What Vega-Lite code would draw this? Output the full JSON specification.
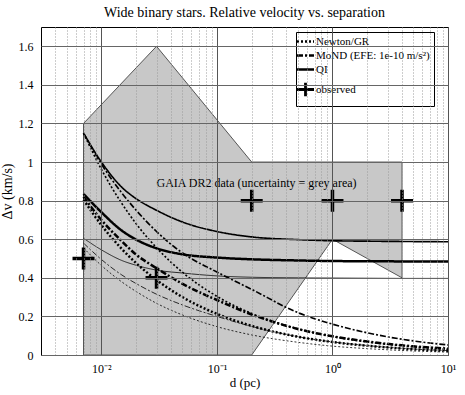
{
  "$schema": "https://vega.github.io/schema/vega-lite/v6.json",
  "width": 407,
  "height": 328,
  "autosize": {"type": "none"},
  "padding": {"left": 41, "top": 27, "right": 17, "bottom": 40},
  "background": "white",
  "config": {
    "view": {"stroke": "black", "strokeWidth": 1},
    "font": "Liberation Serif"
  },
  "title": {
    "text": "Wide binary stars. Relative velocity vs. separation",
    "font": "Liberation Serif",
    "fontSize": 14,
    "fontWeight": "normal",
    "baseline": "bottom",
    "offset": 5,
    "dy": 12,
    "color": "black"
  },
  "datasets": {
    "area": [
      {"d": 0.007, "v": 0, "v2": 1.2},
      {"d": 0.03, "v": 0, "v2": 1.6},
      {"d": 0.2, "v": 0, "v2": 1.0},
      {"d": 1, "v": 0.6, "v2": 1.0},
      {"d": 4, "v": 0.4, "v2": 1.0}
    ],
    "curves": [
      {"model": "QI", "band": "central", "d": 0.007, "v": 0.835},
      {"model": "QI", "band": "central", "d": 0.01, "v": 0.74},
      {"model": "QI", "band": "central", "d": 0.015, "v": 0.645},
      {"model": "QI", "band": "central", "d": 0.02, "v": 0.598},
      {"model": "QI", "band": "central", "d": 0.03, "v": 0.553},
      {"model": "QI", "band": "central", "d": 0.05, "v": 0.522},
      {"model": "QI", "band": "central", "d": 0.1, "v": 0.505},
      {"model": "QI", "band": "central", "d": 0.2, "v": 0.496},
      {"model": "QI", "band": "central", "d": 0.5, "v": 0.49},
      {"model": "QI", "band": "central", "d": 1, "v": 0.487},
      {"model": "QI", "band": "central", "d": 2, "v": 0.486},
      {"model": "QI", "band": "central", "d": 5, "v": 0.485},
      {"model": "QI", "band": "central", "d": 10, "v": 0.485},
      {"model": "QI", "band": "upper", "d": 0.007, "v": 1.15},
      {"model": "QI", "band": "upper", "d": 0.01, "v": 1.0},
      {"model": "QI", "band": "upper", "d": 0.015, "v": 0.87},
      {"model": "QI", "band": "upper", "d": 0.02, "v": 0.81},
      {"model": "QI", "band": "upper", "d": 0.03, "v": 0.75},
      {"model": "QI", "band": "upper", "d": 0.05, "v": 0.69},
      {"model": "QI", "band": "upper", "d": 0.1, "v": 0.64},
      {"model": "QI", "band": "upper", "d": 0.2, "v": 0.612},
      {"model": "QI", "band": "upper", "d": 0.5, "v": 0.598},
      {"model": "QI", "band": "upper", "d": 1, "v": 0.592},
      {"model": "QI", "band": "upper", "d": 2, "v": 0.59},
      {"model": "QI", "band": "upper", "d": 5, "v": 0.588},
      {"model": "QI", "band": "upper", "d": 10, "v": 0.587},
      {"model": "QI", "band": "lower", "d": 0.007, "v": 0.605},
      {"model": "QI", "band": "lower", "d": 0.01, "v": 0.545},
      {"model": "QI", "band": "lower", "d": 0.015, "v": 0.49},
      {"model": "QI", "band": "lower", "d": 0.02, "v": 0.465},
      {"model": "QI", "band": "lower", "d": 0.03, "v": 0.44},
      {"model": "QI", "band": "lower", "d": 0.05, "v": 0.425},
      {"model": "QI", "band": "lower", "d": 0.1, "v": 0.41},
      {"model": "QI", "band": "lower", "d": 0.2, "v": 0.403},
      {"model": "QI", "band": "lower", "d": 0.5, "v": 0.4},
      {"model": "QI", "band": "lower", "d": 1, "v": 0.399},
      {"model": "QI", "band": "lower", "d": 2, "v": 0.398},
      {"model": "QI", "band": "lower", "d": 5, "v": 0.397},
      {"model": "QI", "band": "lower", "d": 10, "v": 0.397},
      {"model": "Newton/GR", "band": "central", "d": 0.007, "v": 0.805},
      {"model": "Newton/GR", "band": "central", "d": 0.01, "v": 0.673},
      {"model": "Newton/GR", "band": "central", "d": 0.015, "v": 0.55},
      {"model": "Newton/GR", "band": "central", "d": 0.02, "v": 0.476},
      {"model": "Newton/GR", "band": "central", "d": 0.03, "v": 0.389},
      {"model": "Newton/GR", "band": "central", "d": 0.05, "v": 0.301},
      {"model": "Newton/GR", "band": "central", "d": 0.1, "v": 0.213},
      {"model": "Newton/GR", "band": "central", "d": 0.2, "v": 0.151},
      {"model": "Newton/GR", "band": "central", "d": 0.5, "v": 0.095},
      {"model": "Newton/GR", "band": "central", "d": 1, "v": 0.067},
      {"model": "Newton/GR", "band": "central", "d": 2, "v": 0.048},
      {"model": "Newton/GR", "band": "central", "d": 5, "v": 0.03},
      {"model": "Newton/GR", "band": "central", "d": 10, "v": 0.021},
      {"model": "Newton/GR", "band": "upper", "d": 0.007, "v": 1.15},
      {"model": "Newton/GR", "band": "upper", "d": 0.01, "v": 0.962},
      {"model": "Newton/GR", "band": "upper", "d": 0.015, "v": 0.786},
      {"model": "Newton/GR", "band": "upper", "d": 0.02, "v": 0.68},
      {"model": "Newton/GR", "band": "upper", "d": 0.03, "v": 0.556},
      {"model": "Newton/GR", "band": "upper", "d": 0.05, "v": 0.43},
      {"model": "Newton/GR", "band": "upper", "d": 0.1, "v": 0.304},
      {"model": "Newton/GR", "band": "upper", "d": 0.2, "v": 0.215},
      {"model": "Newton/GR", "band": "upper", "d": 0.5, "v": 0.136},
      {"model": "Newton/GR", "band": "upper", "d": 1, "v": 0.096},
      {"model": "Newton/GR", "band": "upper", "d": 2, "v": 0.068},
      {"model": "Newton/GR", "band": "upper", "d": 5, "v": 0.043},
      {"model": "Newton/GR", "band": "upper", "d": 10, "v": 0.03},
      {"model": "Newton/GR", "band": "lower", "d": 0.007, "v": 0.555},
      {"model": "Newton/GR", "band": "lower", "d": 0.01, "v": 0.464},
      {"model": "Newton/GR", "band": "lower", "d": 0.015, "v": 0.379},
      {"model": "Newton/GR", "band": "lower", "d": 0.02, "v": 0.329},
      {"model": "Newton/GR", "band": "lower", "d": 0.03, "v": 0.268},
      {"model": "Newton/GR", "band": "lower", "d": 0.05, "v": 0.208},
      {"model": "Newton/GR", "band": "lower", "d": 0.1, "v": 0.147},
      {"model": "Newton/GR", "band": "lower", "d": 0.2, "v": 0.104},
      {"model": "Newton/GR", "band": "lower", "d": 0.5, "v": 0.066},
      {"model": "Newton/GR", "band": "lower", "d": 1, "v": 0.046},
      {"model": "Newton/GR", "band": "lower", "d": 2, "v": 0.033},
      {"model": "Newton/GR", "band": "lower", "d": 5, "v": 0.021},
      {"model": "Newton/GR", "band": "lower", "d": 10, "v": 0.015},
      {"model": "MoND (EFE: 1e-10 m/s²)", "band": "central", "d": 0.007, "v": 0.82},
      {"model": "MoND (EFE: 1e-10 m/s²)", "band": "central", "d": 0.01, "v": 0.7},
      {"model": "MoND (EFE: 1e-10 m/s²)", "band": "central", "d": 0.015, "v": 0.59},
      {"model": "MoND (EFE: 1e-10 m/s²)", "band": "central", "d": 0.02, "v": 0.52},
      {"model": "MoND (EFE: 1e-10 m/s²)", "band": "central", "d": 0.03, "v": 0.45},
      {"model": "MoND (EFE: 1e-10 m/s²)", "band": "central", "d": 0.05, "v": 0.37},
      {"model": "MoND (EFE: 1e-10 m/s²)", "band": "central", "d": 0.1, "v": 0.285},
      {"model": "MoND (EFE: 1e-10 m/s²)", "band": "central", "d": 0.2, "v": 0.21},
      {"model": "MoND (EFE: 1e-10 m/s²)", "band": "central", "d": 0.5, "v": 0.135},
      {"model": "MoND (EFE: 1e-10 m/s²)", "band": "central", "d": 1, "v": 0.097},
      {"model": "MoND (EFE: 1e-10 m/s²)", "band": "central", "d": 2, "v": 0.07},
      {"model": "MoND (EFE: 1e-10 m/s²)", "band": "central", "d": 5, "v": 0.045},
      {"model": "MoND (EFE: 1e-10 m/s²)", "band": "central", "d": 10, "v": 0.033},
      {"model": "MoND (EFE: 1e-10 m/s²)", "band": "upper", "d": 0.007, "v": 1.15},
      {"model": "MoND (EFE: 1e-10 m/s²)", "band": "upper", "d": 0.01, "v": 0.99},
      {"model": "MoND (EFE: 1e-10 m/s²)", "band": "upper", "d": 0.015, "v": 0.84},
      {"model": "MoND (EFE: 1e-10 m/s²)", "band": "upper", "d": 0.02, "v": 0.75},
      {"model": "MoND (EFE: 1e-10 m/s²)", "band": "upper", "d": 0.03, "v": 0.64},
      {"model": "MoND (EFE: 1e-10 m/s²)", "band": "upper", "d": 0.05, "v": 0.53},
      {"model": "MoND (EFE: 1e-10 m/s²)", "band": "upper", "d": 0.1, "v": 0.43},
      {"model": "MoND (EFE: 1e-10 m/s²)", "band": "upper", "d": 0.2, "v": 0.34},
      {"model": "MoND (EFE: 1e-10 m/s²)", "band": "upper", "d": 0.5, "v": 0.22},
      {"model": "MoND (EFE: 1e-10 m/s²)", "band": "upper", "d": 1, "v": 0.16},
      {"model": "MoND (EFE: 1e-10 m/s²)", "band": "upper", "d": 2, "v": 0.115},
      {"model": "MoND (EFE: 1e-10 m/s²)", "band": "upper", "d": 5, "v": 0.073},
      {"model": "MoND (EFE: 1e-10 m/s²)", "band": "upper", "d": 10, "v": 0.052},
      {"model": "MoND (EFE: 1e-10 m/s²)", "band": "lower", "d": 0.007, "v": 0.58},
      {"model": "MoND (EFE: 1e-10 m/s²)", "band": "lower", "d": 0.01, "v": 0.495},
      {"model": "MoND (EFE: 1e-10 m/s²)", "band": "lower", "d": 0.015, "v": 0.415},
      {"model": "MoND (EFE: 1e-10 m/s²)", "band": "lower", "d": 0.02, "v": 0.37},
      {"model": "MoND (EFE: 1e-10 m/s²)", "band": "lower", "d": 0.03, "v": 0.315},
      {"model": "MoND (EFE: 1e-10 m/s²)", "band": "lower", "d": 0.05, "v": 0.26},
      {"model": "MoND (EFE: 1e-10 m/s²)", "band": "lower", "d": 0.1, "v": 0.2},
      {"model": "MoND (EFE: 1e-10 m/s²)", "band": "lower", "d": 0.2, "v": 0.148},
      {"model": "MoND (EFE: 1e-10 m/s²)", "band": "lower", "d": 0.5, "v": 0.095},
      {"model": "MoND (EFE: 1e-10 m/s²)", "band": "lower", "d": 1, "v": 0.068},
      {"model": "MoND (EFE: 1e-10 m/s²)", "band": "lower", "d": 2, "v": 0.049},
      {"model": "MoND (EFE: 1e-10 m/s²)", "band": "lower", "d": 5, "v": 0.031},
      {"model": "MoND (EFE: 1e-10 m/s²)", "band": "lower", "d": 10, "v": 0.023}
    ],
    "obs": [
      {"d": 0.007, "v": 0.5},
      {"d": 0.03, "v": 0.4},
      {"d": 0.2, "v": 0.8},
      {"d": 1, "v": 0.8},
      {"d": 4, "v": 0.8}
    ],
    "label": [
      {"d": 0.03, "v": 0.89, "text": "GAIA DR2 data (uncertainty = grey area)"}
    ]
  },
  "encoding": {
    "x": {
      "field": "d",
      "type": "quantitative",
      "scale": {"type": "log", "domain": [0.003, 10], "nice": false},
      "axis": {
        "title": "d (pc)",
        "values": [0.004, 0.005, 0.006, 0.007, 0.008, 0.009, 0.01, 0.02, 0.03, 0.04, 0.05, 0.06, 0.07, 0.08, 0.09, 0.1, 0.2, 0.3, 0.4, 0.5, 0.6, 0.7, 0.8, 0.9, 1, 2, 3, 4, 5, 6, 7, 8, 9, 10],
        "labelExpr": "datum.value == 0.01 ? '10⁻²' : datum.value == 0.1 ? '10⁻¹' : datum.value == 1 ? '10⁰' : datum.value == 10 ? '10¹' : ''",
        "grid": true,
        "gridColor": {"condition": {"test": "datum.value == 0.01 || datum.value == 0.1 || datum.value == 1 || datum.value == 10", "value": "#555555"}, "value": "#9a9a9a"},
        "gridDash": {"condition": {"test": "datum.value == 0.01 || datum.value == 0.1 || datum.value == 1 || datum.value == 10", "value": []}, "value": [1, 2]},
        "gridWidth": 1,
        "ticks": false,
        "domain": false,
        "labelFont": "Liberation Serif",
        "labelFontSize": 12,
        "labelColor": "black",
        "labelPadding": 8,
        "labelFlush": false,
        "labelOverlap": false,
        "titleFont": "Liberation Serif",
        "titleFontSize": 13,
        "titleFontWeight": "normal",
        "titleColor": "black",
        "titlePadding": 2,
        "zindex": 1
      }
    },
    "y": {
      "field": "v",
      "type": "quantitative",
      "scale": {"domain": [0, 1.7], "nice": false},
      "axis": {
        "title": "Δv (km/s)",
        "values": [0, 0.2, 0.4, 0.6, 0.8, 1, 1.2, 1.4, 1.6],
        "format": "~g",
        "grid": true,
        "gridColor": "#666666",
        "gridWidth": 1,
        "ticks": false,
        "domain": false,
        "labelFont": "Liberation Serif",
        "labelFontSize": 12,
        "labelColor": "black",
        "labelPadding": 8,
        "titleFont": "Liberation Serif",
        "titleFontSize": 14,
        "titleFontWeight": "normal",
        "titleColor": "black",
        "titlePadding": 4,
        "zindex": 1
      }
    }
  },
  "layer": [
    {
      "data": {"name": "area"},
      "mark": {"type": "area", "color": "#c8c8c8", "stroke": "#555555", "strokeWidth": 1, "opacity": 1},
      "encoding": {"y2": {"field": "v2"}}
    },
    {
      "data": {"name": "curves"},
      "mark": {"type": "line", "color": "black", "interpolate": "monotone", "clip": true},
      "encoding": {
        "strokeDash": {
          "field": "model",
          "type": "nominal",
          "scale": {
            "domain": ["Newton/GR", "MoND (EFE: 1e-10 m/s²)", "QI", "observed"],
            "range": [[2, 2], [6, 2, 2, 2], [1, 0], [1, 0]]
          },
          "legend": {
            "title": null,
            "orient": "none",
            "legendX": 255,
            "legendY": 5,
            "direction": "vertical",
            "symbolType": "stroke",
            "symbolSize": 289,
            "symbolStrokeWidth": 2.5,
            "symbolStrokeColor": "black",
            "labelFont": "Liberation Serif",
            "labelFontSize": 11,
            "labelColor": "black",
            "labelOffset": 5,
            "rowPadding": 2,
            "padding": 4,
            "strokeColor": "black",
            "fillColor": "white",
            "cornerRadius": 0,
            "labelLimit": 300,
            "encode": {
              "symbols": {
                "update": {
                  "shape": {"signal": "datum.value === 'observed' ? 'M-1,0H1M0,-0.8V0.8' : 'stroke'"},
                  "strokeWidth": {"signal": "datum.value === 'observed' ? 2.8 : 2.5"},
                  "stroke": {"value": "black"}
                }
              }
            }
          }
        },
        "strokeWidth": {
          "field": "band",
          "type": "nominal",
          "scale": {"domain": ["central", "upper", "lower"], "range": [2.5, 0.8, 0.8]},
          "legend": null
        }
      }
    },
    {
      "data": {"name": "obs"},
      "mark": {"type": "point", "shape": "M-1,0H1M0,-1V1", "filled": false, "stroke": "black", "strokeWidth": 3.5, "size": 484, "opacity": 1}
    },
    {
      "data": {"name": "label"},
      "mark": {"type": "text", "align": "left", "baseline": "middle", "font": "Liberation Serif", "fontSize": 12, "color": "black"},
      "encoding": {"text": {"field": "text"}}
    }
  ]
}
